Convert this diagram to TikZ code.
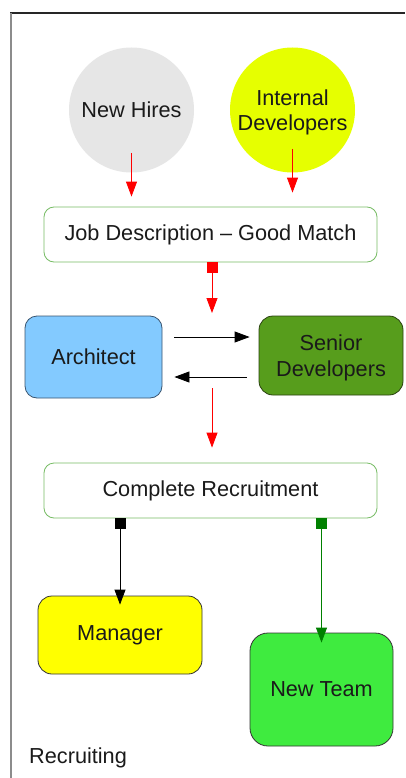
\documentclass[tikz,border=0pt]{standalone}
\usepackage{fontspec}
\setmainfont{Liberation Sans}
\usetikzlibrary{arrows.meta}
\definecolor{hiregrey}{HTML}{E6E6E6}
\definecolor{devyellow}{HTML}{E6FF00}
\definecolor{boxgreen}{HTML}{77BC65}
\definecolor{archblue}{HTML}{83CAFF}
\definecolor{archedge}{HTML}{3A5570}
\definecolor{seniorgreen}{HTML}{579D1C}
\definecolor{senioredge}{HTML}{2A4210}
\definecolor{mgryellow}{HTML}{FFFF00}
\definecolor{teamgreen}{HTML}{3FEB3F}
\definecolor{txt}{HTML}{1A1A1A}
\definecolor{linkgreen}{HTML}{008000}
\newcommand{\twolines}[2]{\raisebox{-3pt}[\height][\depth]{\begin{tabular}{@{}c@{}}#1\\#2\end{tabular}}}
\begin{document}
\begin{tikzpicture}[x=1pt,y=-1pt,
  every node/.style={font=\fontsize{21.7}{25.5}\selectfont, text=txt, align=center, inner sep=0pt},
  circ/.style={circle, minimum size=125pt},
  wbox/.style={draw=boxgreen, line width=0.8pt, fill=white, rounded corners=10pt, minimum width=333pt, minimum height=55pt},
  cbox/.style={draw, line width=0.8pt, rounded corners=#1},
  tip/.style={-{Triangle[length=15pt,width=11pt]}, line width=0.8pt},
  sqtip/.style={{Square[length=10pt,width=11pt]}-{Triangle[length=15pt,width=11pt]}, line width=0.8pt}
]
\useasboundingbox (0,0) rectangle (405,778);
\fill[white] (0,0) rectangle (405,778);
% frame
\draw[line width=1.5pt, color=black!85] (10,13) -- (405,13);
\draw[line width=2pt, color=black!45] (11,13) -- (11,778);

\node[circ, fill=hiregrey] (nh) at (131.5,110) {New Hires};
\node[circ, fill=devyellow] (id) at (292.5,110) {\twolines{Internal}{Developers}};

\node[wbox] (jd) at (210.5,234.5) {Job Description -- Good Match};

\node[cbox=12pt, draw=archedge, fill=archblue, minimum width=137pt, minimum height=82pt] (ar) at (93.5,357) {Architect};
\node[cbox=14pt, draw=senioredge, fill=seniorgreen, minimum width=144pt, minimum height=79pt] (sd) at (331,355.5) {\twolines{Senior}{Developers}};

\node[wbox] (cr) at (210.5,490.5) {Complete Recruitment};

\node[cbox=14pt, draw=black!80, fill=mgryellow, minimum width=164pt, minimum height=78pt] (mg) at (120,635) {Manager};
\node[cbox=18pt, draw=black!80, fill=teamgreen, minimum width=143pt, minimum height=113pt] (nt) at (321.5,689.5) {New Team};

\node[anchor=base west] (rc) at (29,763) {Recruiting};

\coordinate (mid1) at (212,313);
\coordinate (mid2) at (212,388);

% connectors
\draw[tip, red, shorten <=43pt, shorten >=10pt] (nh.center) -- (nh.center |- jd.north);
\draw[tip, red, shorten <=39pt, shorten >=14pt] (id.center) -- (id.center |- jd.north);
\draw[sqtip, red] (jd.south -| mid1) -- (mid1);
\draw[tip, red, shorten >=15pt] (mid2) -- (mid2 |- cr.north);
\draw[tip, black, shorten <=12pt, shorten >=9pt] (ar.east |- 0,337) -- (sd.west |- 0,337);
\draw[tip, black, shorten <=12pt, shorten >=12pt] (sd.west |- 0,377) -- (ar.east |- 0,377);
\draw[sqtip, black] (cr.south -| mg.center) -- ([yshift=-9pt]mg.north);
\draw[sqtip, linkgreen] (cr.south -| nt.center) -- ([yshift=-10pt]nt.north);
\end{tikzpicture}
\end{document}
